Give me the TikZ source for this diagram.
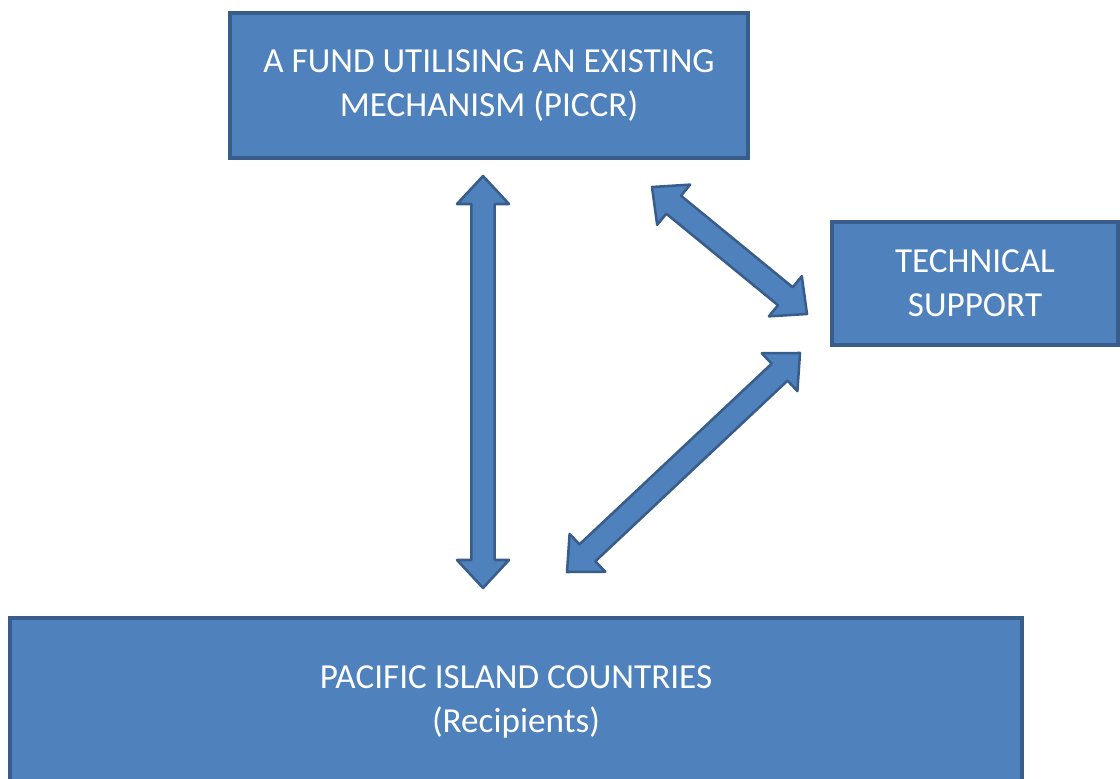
\documentclass[tikz,border=0pt]{standalone}
\usepackage{fontspec}
\setmainfont{Carlito}
\usetikzlibrary{calc}

\definecolor{boxfill}{HTML}{4F81BD}
\definecolor{boxline}{HTML}{385D8A}

\tikzset{
	box/.style={draw=boxline,fill=boxfill,line width=2.2pt,text=white,align=center,
		inner sep=0pt,font=\fontsize{25}{31}\selectfont},
	blockarrow/.style={draw=boxline,fill=boxfill,line width=1.8pt,line join=round}
}

% two-headed block arrow between two named points
\newcommand{\twowayarrow}[2]{%
	\coordinate (#1h) at ($(#1)!0.7cm!(#2)$);
	\coordinate (#2h) at ($(#2)!0.7cm!(#1)$);
	\draw[blockarrow] (#1) -- ($(#1h)!0.65cm!90:(#2)$) -- ($(#1h)!0.29cm!90:(#2)$)
		-- ($(#2h)!0.29cm!-90:(#1)$) -- ($(#2h)!0.65cm!-90:(#1)$) -- (#2)
		-- ($(#2h)!0.65cm!90:(#1)$) -- ($(#2h)!0.29cm!90:(#1)$)
		-- ($(#1h)!0.29cm!-90:(#2)$) -- ($(#1h)!0.65cm!-90:(#2)$) -- cycle;}

\begin{document}
\begin{tikzpicture}
	\useasboundingbox (0,0) rectangle (28,19.45);
	\clip (0,0) rectangle (28,19.45);

	\draw (12.225,17.3125) node (fund) [box,minimum width=12.95cm,minimum height=3.625cm] {A FUND UTILISING AN EXISTING\\MECHANISM (PICCR)};
	\draw (24.375,12.3625) node (tech) [box,minimum width=7.15cm,minimum height=3.075cm] {TECHNICAL\\SUPPORT};
	\draw (12.9,1.9) node (pic) [box,minimum width=25.3cm,minimum height=4.2cm] {PACIFIC ISLAND COUNTRIES\\(Recipients)};

	\coordinate (fundS) at (12.075,15.05);
	\coordinate (picN) at (12.075,4.75);
	\coordinate (fundE) at (16.3,14.775);
	\coordinate (techW) at (20.175,11.6);
	\coordinate (techSW) at (20.0,10.625);
	\coordinate (picNE) at (14.175,5.15);

	\twowayarrow{fundS}{picN}
	\twowayarrow{fundE}{techW}
	\twowayarrow{techSW}{picNE}
\end{tikzpicture}
\end{document}
